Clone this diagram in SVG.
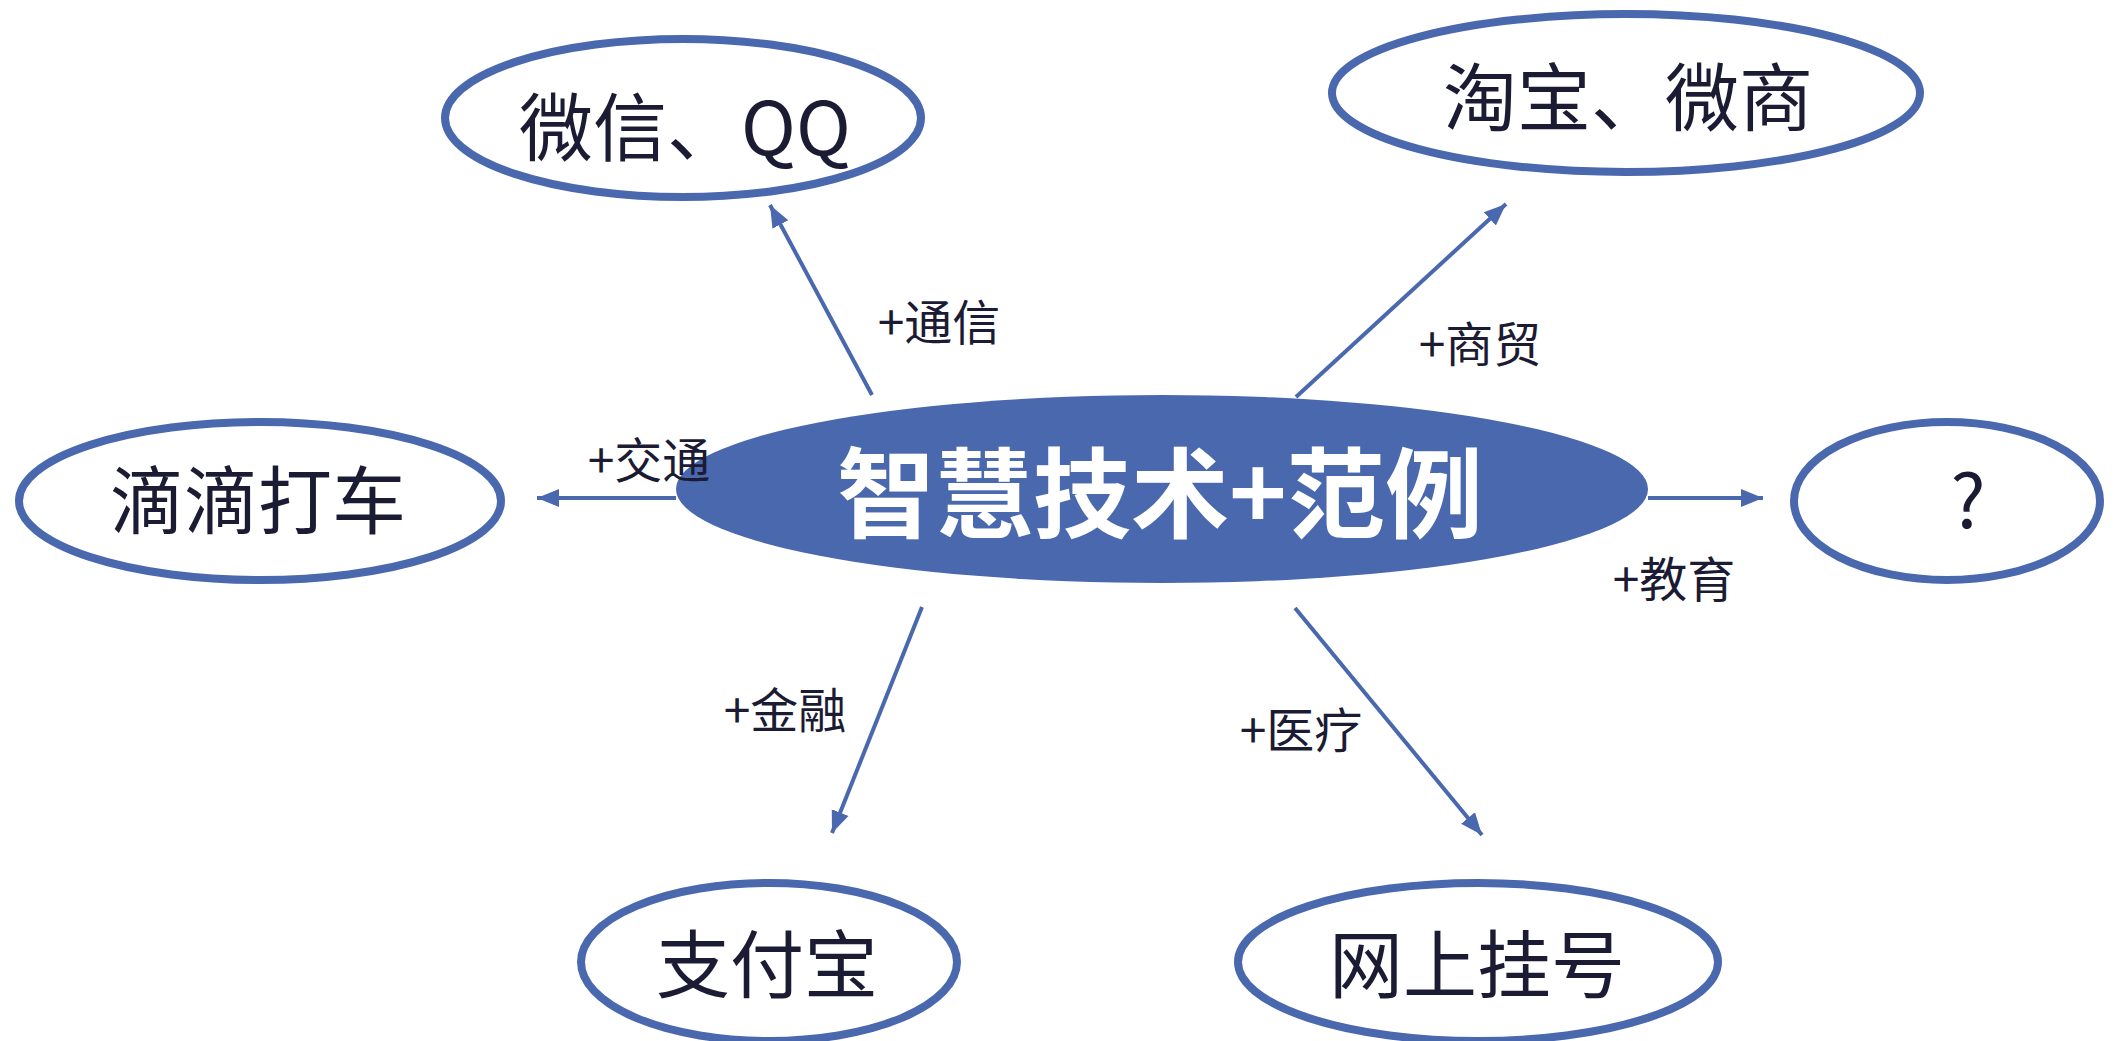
<svg xmlns="http://www.w3.org/2000/svg" width="2121" height="1041" viewBox="0 0 2121 1041">
<defs>
<style>
.node{fill:#ffffff;stroke:#4A68AE;stroke-width:8}
.hub{fill:#4A68AE;stroke:none}
.t{font-family:"Noto Sans CJK SC","Liberation Sans",sans-serif;fill:#1B1B33;text-anchor:middle}
.nt{font-size:74px}
.lt{font-size:48px}
.ht{font-family:"Noto Sans CJK SC","Liberation Sans",sans-serif;font-size:98px;font-weight:bold;fill:#ffffff;text-anchor:middle}
.c{stroke:#4A68AE;stroke-width:4;fill:none;marker-end:url(#ah)}
</style>
<marker id="ah" markerUnits="userSpaceOnUse" markerWidth="24" markerHeight="20" refX="22" refY="10" orient="auto">
<path d="M0,1 L22,10 L0,19 Z" fill="#4A68AE"/>
</marker>
</defs>
<rect width="2121" height="1041" fill="#ffffff"/>
<g id="hub">
<ellipse class="hub" cx="1162" cy="489" rx="486" ry="94"/>
<text class="ht" x="1160" y="530">智慧技术+范例</text>
</g>
<g id="wechat">
<ellipse class="node" cx="683" cy="118" rx="238" ry="79"/>
<text class="t nt" x="685" y="155">微信、QQ</text>
</g>
<g id="taobao">
<ellipse class="node" cx="1626" cy="93" rx="294" ry="79"/>
<text class="t nt" x="1628" y="125">淘宝、微商</text>
</g>
<g id="didi">
<ellipse class="node" cx="260" cy="501" rx="241" ry="79"/>
<text class="t nt" x="258" y="528">滴滴打车</text>
</g>
<g id="unknown">
<ellipse class="node" cx="1947" cy="501" rx="153" ry="79"/>
<text class="t nt" x="1968" y="528">?</text>
</g>
<g id="alipay">
<ellipse class="node" cx="769" cy="962" rx="188" ry="79"/>
<text class="t nt" x="767" y="992">支付宝</text>
</g>
<g id="hospital">
<ellipse class="node" cx="1478" cy="962" rx="240" ry="79"/>
<text class="t nt" x="1477" y="992">网上挂号</text>
</g>
<g id="connectors">
<line class="c" x1="872" y1="395" x2="770" y2="205"/>
<line class="c" x1="676" y1="498" x2="537" y2="498"/>
<line class="c" x1="1296" y1="397" x2="1506" y2="204"/>
<line class="c" x1="1648" y1="498" x2="1763" y2="498"/>
<line class="c" x1="922" y1="607" x2="832" y2="833"/>
<line class="c" x1="1295" y1="608" x2="1482" y2="835"/>
<text class="t lt" x="939" y="340">+通信</text>
<text class="t lt" x="649" y="478">+交通</text>
<text class="t lt" x="1480" y="362">+商贸</text>
<text class="t lt" x="1674" y="597">+教育</text>
<text class="t lt" x="785" y="728">+金融</text>
<text class="t lt" x="1301" y="748">+医疗</text>
</g>
</svg>
